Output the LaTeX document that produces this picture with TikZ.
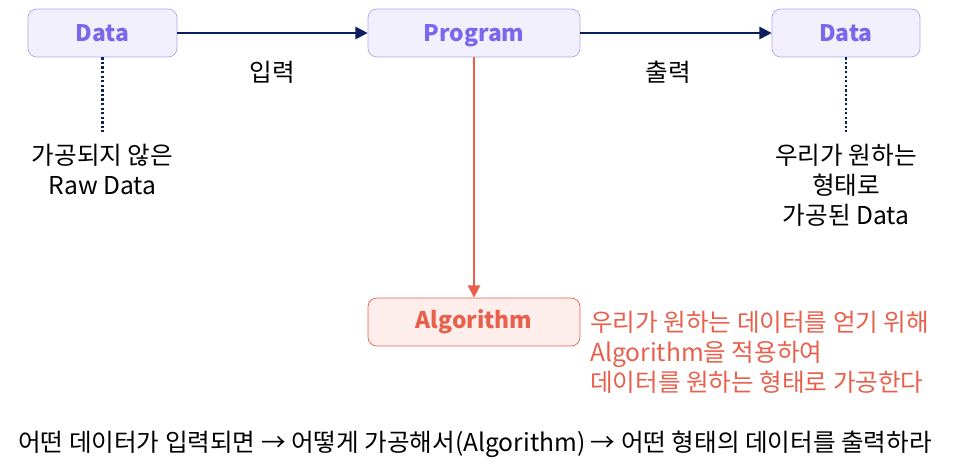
\documentclass[tikz,border=0pt]{standalone}
\usepackage{fontspec}
\setmainfont{Noto Sans CJK KR}
\usetikzlibrary{arrows.meta,positioning}

\definecolor{boxfill}{HTML}{F3F0FD}
\definecolor{boxline}{HTML}{AFA2F2}
\definecolor{boxtext}{HTML}{7B66EE}
\definecolor{algofill}{HTML}{FDEEEC}
\definecolor{algoline}{HTML}{E8604C}
\definecolor{navy}{HTML}{0B1F5E}

\begin{document}
\begin{tikzpicture}[
    x=0.02cm, y=-0.02cm,
    databox/.style={draw=boxline, fill=boxfill, rounded corners=5pt,
      minimum height=0.96cm, text=boxtext, text depth=0pt,
      font=\fontsize{13}{15}\selectfont\bfseries},
    algobox/.style={draw=algoline, fill=algofill, rounded corners=5pt,
      minimum height=0.96cm, minimum width=4.24cm, text=algoline,
      font=\fontsize{13}{15}\selectfont\bfseries},
    flow/.style={draw=navy, line width=1.2pt, -{Triangle[length=7pt,width=7pt]}},
    lead/.style={draw=navy, line width=1.3pt, dash pattern=on 1.3pt off 1.3pt},
    note/.style={align=center, font=\fontsize{14}{17}\selectfont}
  ]
  \useasboundingbox (0,0) rectangle (953,474);

  % boxes
  \node[databox, minimum width=2.98cm] (src) at (102.5,33) {Data};
  \node[databox, minimum width=4.24cm] (prog) at (474,33) {Program};
  \node[databox, minimum width=2.96cm] (dst) at (846,33) {Data};
  \node[algobox] (algo) at (474,322) {Algorithm};

  % arrows
  \draw[flow] (src) -- (prog);
  \draw[flow] (prog) -- (dst);
  \draw[flow, draw=algoline, line width=0.9pt] (prog) -- (algo);

  \node[note] (in) at (272,72) {입력};
  \node[note] (out) at (668,72) {출력};

  % dotted leads
  \coordinate (srcend) at (102.5,132);
  \coordinate (dstend) at (846,132);
  \draw[lead] (src) -- (srcend);
  \draw[lead] (dst) -- (dstend);

  \node[note, below=0.12cm of srcend] (raw) {가공되지 않은\\Raw Data};
  \node[note, below=0.12cm of dstend] (done) {우리가 원하는\\형태로\\가공된 Data};

  \node[note, align=left, anchor=west, text=algoline] (why) at (584,352)
    {우리가 원하는 데이터를 얻기 위해\\Algorithm을 적용하여\\데이터를 원하는 형태로 가공한다};

  \node[note] (summary) at (475,444)
    {어떤 데이터가 입력되면 → 어떻게 가공해서(Algorithm) → 어떤 형태의 데이터를 출력하라};
\end{tikzpicture}
\end{document}
